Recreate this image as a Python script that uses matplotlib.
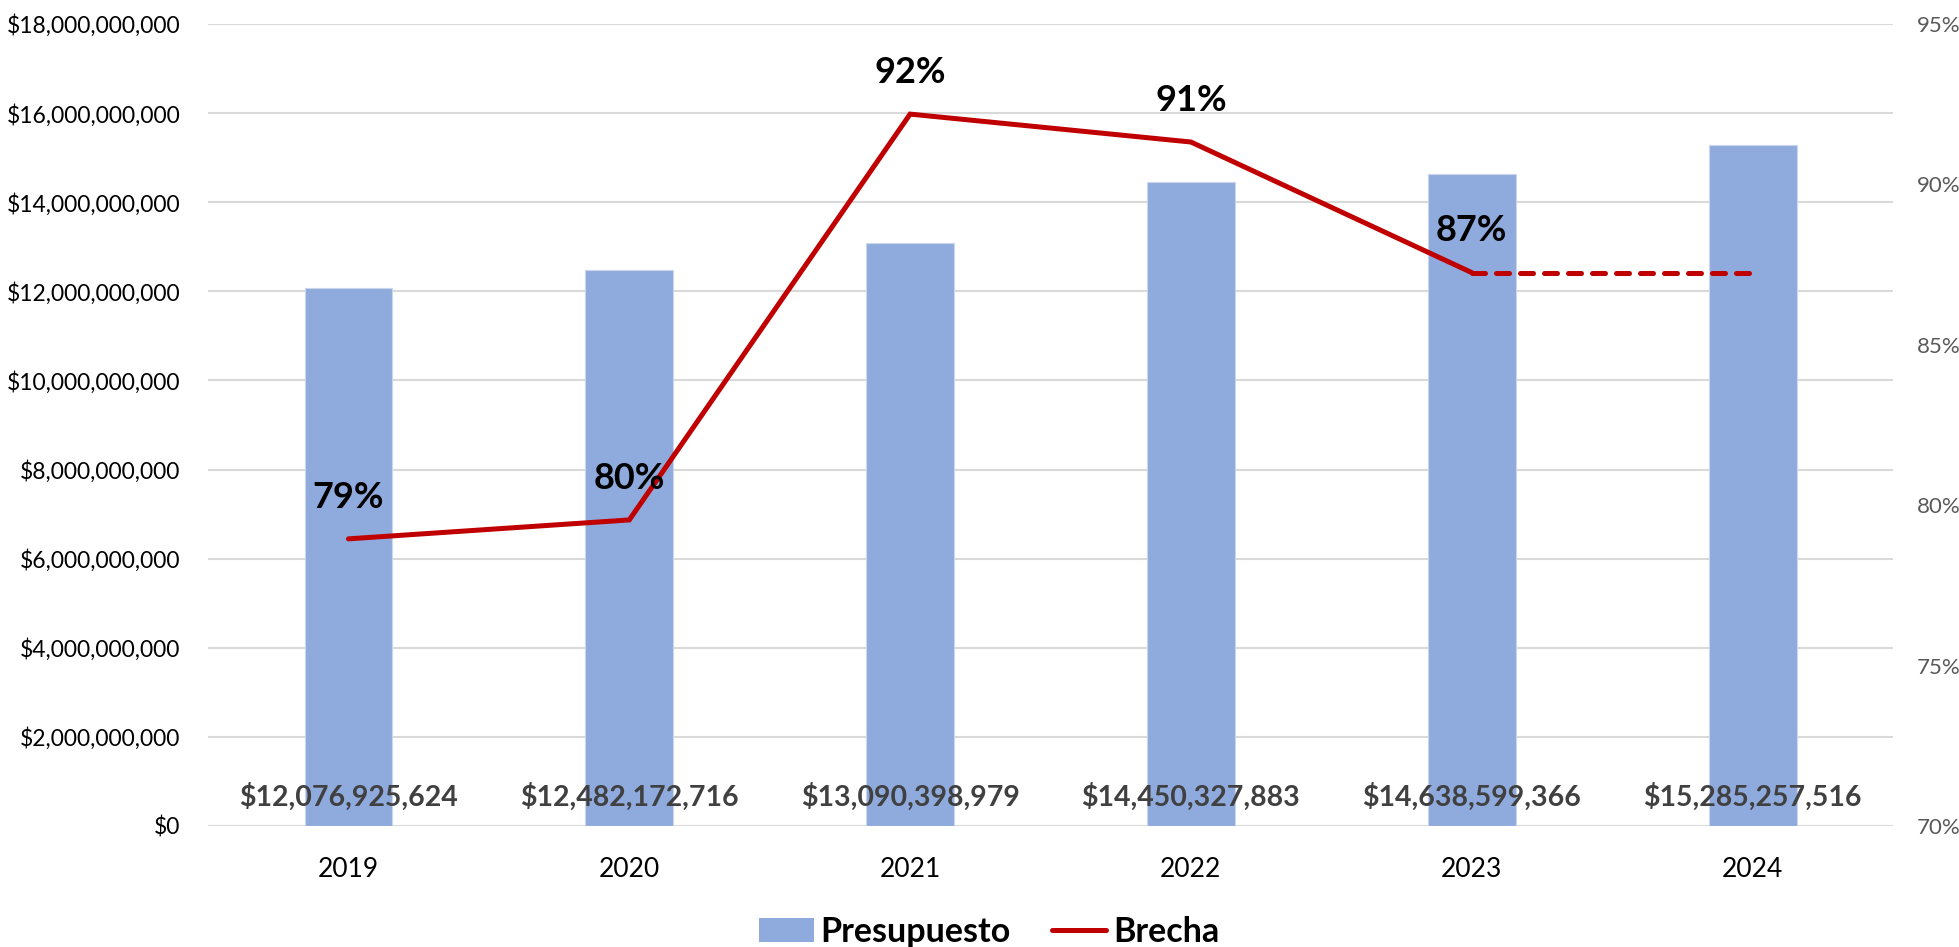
import matplotlib.pyplot as plt
from matplotlib.ticker import FuncFormatter, MultipleLocator
from matplotlib.patches import Patch
from matplotlib.lines import Line2D

plt.rcParams['font.family'] = ['Lato', 'DejaVu Sans']

# Datos
anios = ['2019', '2020', '2021', '2022', '2023', '2024']
presupuesto = [12076925624, 12482172716, 13090398979, 14450327883, 14638599366, 15285257516]
brecha = [0.7895, 0.7954, 0.9219, 0.9132, 0.8725]
brecha_proyectada = [0.8725, 0.8725]   # 2023 -> 2024 (línea punteada)
etiquetas_brecha = ['79%', '80%', '92%', '91%', '87%']

x = list(range(len(anios)))

fig = plt.figure(figsize=(19.59, 9.47), dpi=100)
ax = fig.add_axes([0.1062, 0.1278, 0.8601, 0.8469])
ax2 = ax.twinx()

# Barras de presupuesto
ax.bar(x, presupuesto, width=0.313, color='#8FAADC', edgecolor='#C9D6EE', linewidth=0.8, zorder=2)
ax.set_ylim(0, 18e9)
ax.set_xlim(-0.5, len(anios) - 0.5)
ax.yaxis.set_major_locator(MultipleLocator(2e9))
ax.yaxis.set_major_formatter(FuncFormatter(lambda v, p: '${:,.0f}'.format(v)))
ax.grid(axis='y', color='#D9D9D9', linewidth=1.5, zorder=0)
ax.set_axisbelow(True)
ax.set_xticks(x)
ax.set_xticklabels(anios)
ax.tick_params(axis='x', length=0, pad=22, labelsize=19, labelcolor='black')
ax.tick_params(axis='y', length=0, pad=20, labelsize=16.5, labelcolor='black')
for s in ax.spines.values():
    s.set_visible(False)

for i, v in enumerate(presupuesto):
    ax.annotate('${:,.0f}'.format(v), xy=(i, 0), xytext=(0, 14.4), textcoords='offset points',
                ha='center', va='baseline', fontsize=20.5, fontweight='bold', color='#404040', zorder=5)

# Línea de brecha
ax2.plot(x[:5], brecha, color='#C00000', linewidth=3.6, solid_capstyle='round', solid_joinstyle='miter', zorder=4)
ax2.plot(x[4:], brecha_proyectada, color='#C00000', linewidth=3.6, linestyle=(0, (2.6, 2.2)),
         dash_capstyle='round', zorder=4)
ax2.set_ylim(0.70, 0.95)
ax2.yaxis.set_major_locator(MultipleLocator(0.05))
ax2.yaxis.set_major_formatter(FuncFormatter(lambda v, p: '{:.0f}%'.format(v * 100)))
ax2.tick_params(axis='y', length=0, pad=17, labelsize=16, labelcolor='#595959')
for s in ax2.spines.values():
    s.set_visible(False)

for i, v in enumerate(brecha):
    ax2.annotate(etiquetas_brecha[i], xy=(i, v), xytext=(0, 30), textcoords='offset points',
                 ha='center', va='center', fontsize=26, fontweight='bold', color='black', zorder=6)

# Leyenda
handles = [Patch(facecolor='#8FAADC', edgecolor='none'),
           Line2D([0], [0], color='#C00000', linewidth=3.6, solid_capstyle='round')]
fig.legend(handles, ['Presupuesto', 'Brecha'], loc='center', bbox_to_anchor=(0.505, 0.016),
           ncol=2, frameon=False, prop={'size': 24.5, 'weight': 'bold'},
           handlelength=1.6, handleheight=0.75, handletextpad=0.2, columnspacing=1.2)

plt.savefig('out.png', dpi=100)
